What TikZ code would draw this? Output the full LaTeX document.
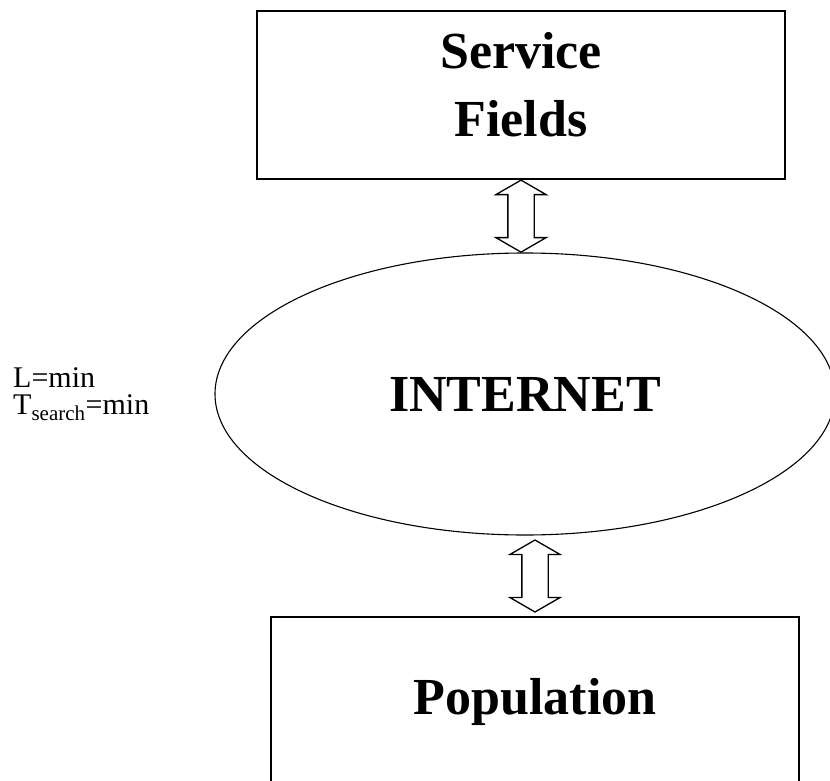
\documentclass[tikz,border=0pt]{standalone}
\usepackage{fontspec}
\setmainfont{Liberation Serif}
\usetikzlibrary{shapes.geometric,shapes.arrows,calc}
\begin{document}
\begin{tikzpicture}[
  x=1pt, y=-1pt,
  box/.style={draw, rectangle, inner sep=0pt},
  big/.style={font=\fontsize{52}{68}\selectfont\bfseries},
  updown/.style={double arrow, draw, line width=1.3pt, rotate=90,
    minimum height=72pt, inner sep=12.5pt,
    double arrow head extend=12pt, double arrow tip angle=120}
]
\useasboundingbox (0,0) rectangle (830,781);
% the three blocks
\node[box, big, line width=1.6pt, minimum width=528pt, minimum height=168pt,
  align=center, text depth=22pt] (svc) at (521,95) {Service\\Fields};
\node[draw, ellipse, big, line width=1.1pt, inner sep=0pt,
  minimum width=620pt, minimum height=282pt] (net) at (525,394) {INTERNET};
\node[box, big, line width=1.1pt, minimum width=528pt,
  minimum height=170pt] (pop) at (535,702) {Population};
% conditions on the left
\node[font=\fontsize{30}{27}\selectfont, align=left, anchor=west,
  inner sep=0pt] (cond) at (13,394) {L=min\\T\textsubscript{search}=min};
% links
\node[updown] (up) at ($(svc.south)!.5!(svc.south |- net.north)$) {};
\node[updown] (down) at ($(pop.north)!.5!(pop.north |- net.south)$) {};
\end{tikzpicture}
\end{document}
